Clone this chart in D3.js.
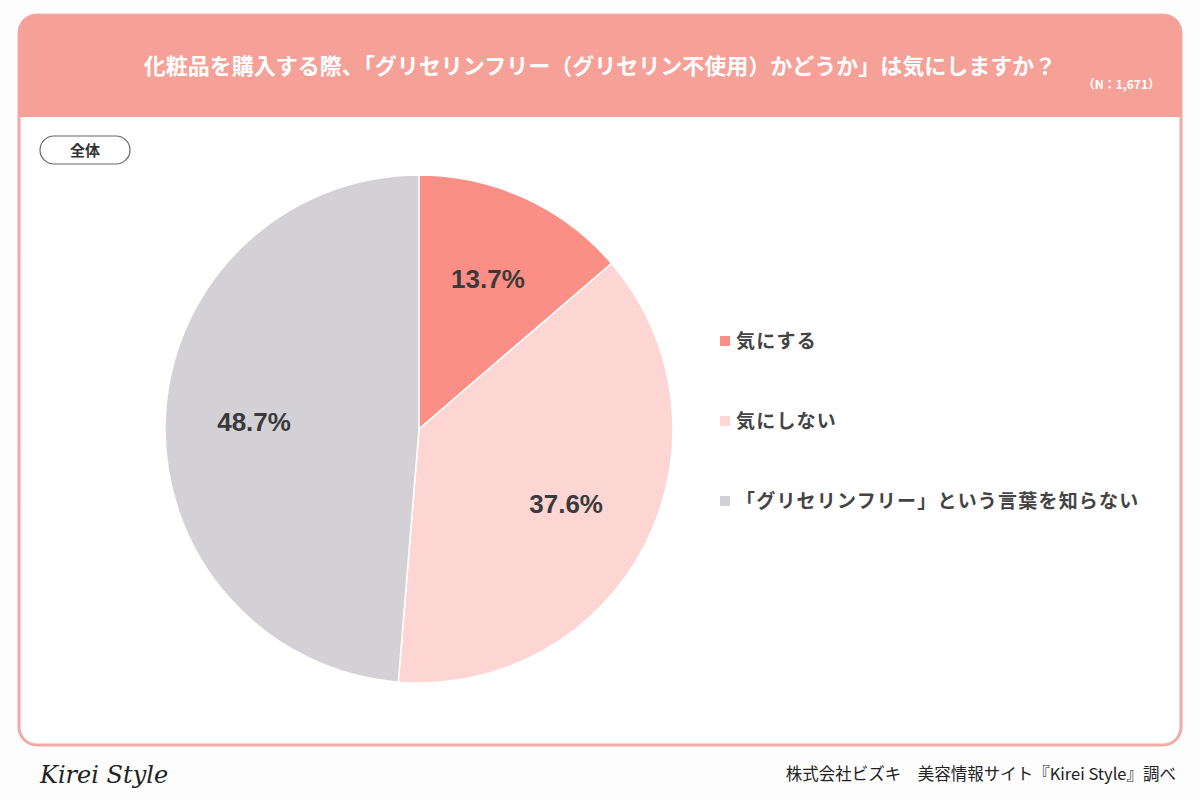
<!DOCTYPE html>
<html>
<head>
<meta charset="utf-8">
<script src="https://cdn.jsdelivr.net/npm/d3@7"></script>
<style>
  body { margin: 0; background: #fdfdfd; }
  svg text { font-family: "Noto Sans CJK JP", "Noto Sans", sans-serif; }
</style>
</head>
<body>
<svg id="chart"></svg>
<script>
const categories = ["気にする", "気にしない", "「グリセリンフリー」という言葉を知らない"];
const values = [13.7, 37.6, 48.7];
const colors = ["#fb8f86", "#fdd6d4", "#d3d1d6"];
const title = "化粧品を購入する際、「グリセリンフリー（グリセリン不使用）かどうか」は気にしますか？";
const sampleNote = "（N：1,671）";
const groupLabel = "全体";
const source = "株式会社ビズキ　美容情報サイト『Kirei Style』調べ";

const width = 1200, height = 800;
const svg = d3.select("#chart").attr("width", width).attr("height", height);

// card
const card = {x: 19, y: 15, w: 1162, h: 730, r: 18};
svg.append("rect")
    .attr("x", card.x).attr("y", card.y)
    .attr("width", card.w).attr("height", card.h)
    .attr("rx", card.r)
    .attr("fill", "#fff")
    .attr("stroke", "#f2aaa4")
    .attr("stroke-width", 3);

// header band
const headerH = 102;
svg.append("path")
    .attr("d", `M${card.x},${card.y + headerH} V${card.y + card.r} Q${card.x},${card.y} ${card.x + card.r},${card.y} H${card.x + card.w - card.r} Q${card.x + card.w},${card.y} ${card.x + card.w},${card.y + card.r} V${card.y + headerH} Z`)
    .attr("fill", "#f6a198");

svg.append("text")
    .attr("x", 600).attr("y", 74)
    .attr("text-anchor", "middle")
    .attr("fill", "#fff")
    .style("font-size", "22px")
    .style("font-weight", "700")
    .text(title);

svg.append("text")
    .attr("x", 1160).attr("y", 89)
    .attr("text-anchor", "end")
    .attr("fill", "#fff")
    .style("font-size", "12px")
    .style("font-weight", "700")
    .text(sampleNote);

// group pill
svg.append("rect")
    .attr("x", 40).attr("y", 136)
    .attr("width", 90).attr("height", 28)
    .attr("rx", 14)
    .attr("fill", "#fff")
    .attr("stroke", "#666")
    .attr("stroke-width", 1.2);
svg.append("text")
    .attr("x", 85).attr("y", 156)
    .attr("text-anchor", "middle")
    .attr("fill", "#333")
    .style("font-size", "15px")
    .style("font-weight", "700")
    .text(groupLabel);

// pie
const cx = 419, cy = 429, radius = 254;
const data = categories.map((c, i) => ({name: c, value: values[i], color: colors[i]}));
const pie = d3.pie().sort(null).value(d => d.value);
const arc = d3.arc().innerRadius(0).outerRadius(radius);
const labelArc = d3.arc().innerRadius(radius * 0.65).outerRadius(radius * 0.65);

const g = svg.append("g").attr("transform", `translate(${cx},${cy})`);
const arcs = pie(data);
g.selectAll("path")
    .data(arcs)
    .join("path")
    .attr("d", arc)
    .attr("fill", d => d.data.color)
    .attr("stroke", "#fff")
    .attr("stroke-width", 1.5);

g.selectAll("text")
    .data(arcs)
    .join("text")
    .attr("transform", d => `translate(${labelArc.centroid(d)})`)
    .attr("text-anchor", "middle")
    .attr("dy", "0.35em")
    .attr("fill", "#3a3a3a")
    .style("font-family", "'Liberation Sans', Arial, sans-serif")
    .style("font-size", "26px")
    .style("font-weight", "700")
    .text(d => d.data.value.toFixed(1) + "%");

// legend
const legendY = d3.scalePoint().domain(categories).range([341, 501]);
const legend = svg.append("g");
const items = legend.selectAll("g")
    .data(data)
    .join("g")
    .attr("transform", d => `translate(720,${legendY(d.name)})`);
items.append("rect")
    .attr("x", 0).attr("y", -5)
    .attr("width", 10).attr("height", 10)
    .attr("fill", d => d.color);
items.append("text")
    .attr("x", 16).attr("dy", "0.35em")
    .attr("fill", "#444")
    .style("font-size", "19px")
    .style("font-weight", "700")
    .style("letter-spacing", "1.2px")
    .text(d => d.name);

// footer
svg.append("text")
    .attr("x", 40).attr("y", 783)
    .attr("fill", "#222")
    .style("font-family", "'DejaVu Serif', serif")
    .style("font-style", "italic")
    .style("font-size", "24px")
    .text("Kirei Style");

svg.append("text")
    .attr("x", 1176).attr("y", 780)
    .attr("text-anchor", "end")
    .attr("fill", "#222")
    .style("font-size", "16.5px")
    .text(source);
</script>
</body>
</html>
